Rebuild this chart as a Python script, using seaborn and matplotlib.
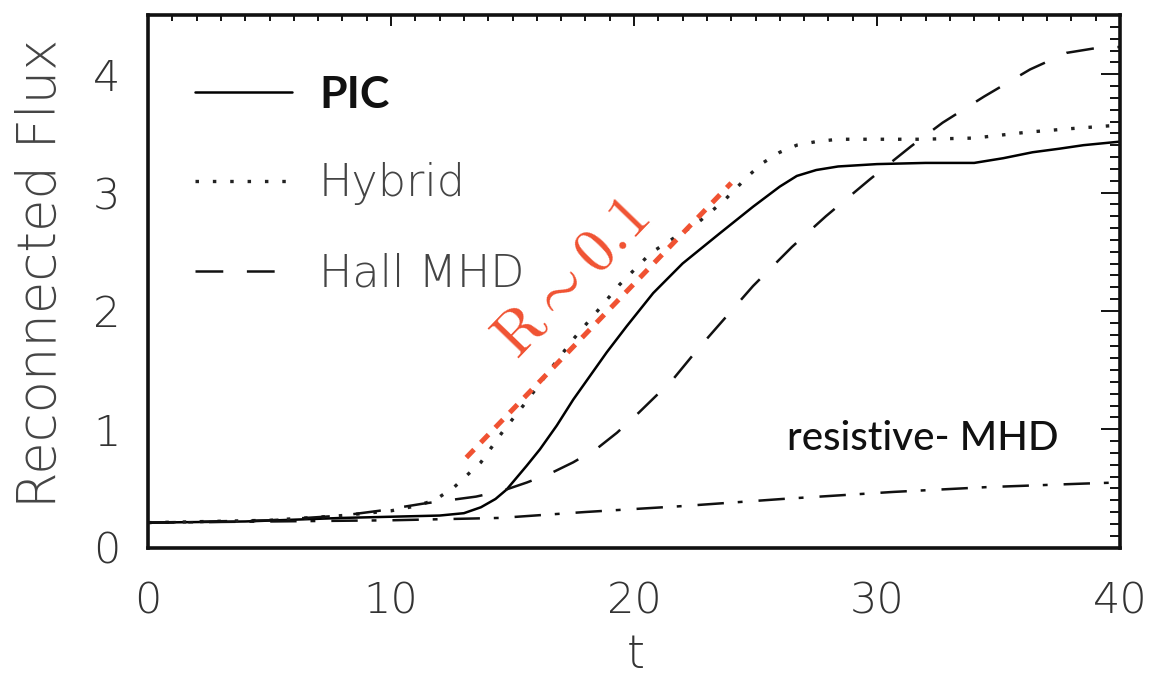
import matplotlib
matplotlib.use("Agg")
import matplotlib.pyplot as plt
import seaborn as sns
import numpy as np
from matplotlib.ticker import MultipleLocator

# ---- data ----
t_pic = [0, 4, 8, 12, 13, 13.7, 14.3, 14.76, 15.58, 16.13, 16.82, 17.5, 18.19, 18.88, 19.7, 20.79,
         22.0, 23.5, 24.9, 26.0, 26.7, 27.5, 28.4, 30, 32, 34, 35.2, 36.4, 37.5, 38.5, 40]
pic = [0.21, 0.22, 0.25, 0.27, 0.29, 0.34, 0.41, 0.49, 0.69, 0.83, 1.03, 1.25, 1.45, 1.65, 1.87, 2.15,
       2.40, 2.65, 2.88, 3.05, 3.14, 3.19, 3.22, 3.24, 3.25, 3.25, 3.29, 3.34, 3.37, 3.40, 3.43]

t_hyb = [0, 5, 8, 10, 11, 11.8, 12.6, 13.7, 14.6, 15.6, 16.5, 17.5, 18.5, 19.4, 20.7, 21.6, 22.6,
         23.7, 24.7, 25.3, 26.0, 26.7, 27.5, 28.4, 31.8, 34, 36.2, 38, 40]
hybrid = [0.21, 0.23, 0.27, 0.31, 0.35, 0.40, 0.51, 0.72, 0.98, 1.24, 1.49, 1.76, 2.00, 2.22, 2.49, 2.61, 2.74,
          2.93, 3.14, 3.25, 3.34, 3.40, 3.43, 3.45, 3.45, 3.46, 3.51, 3.54, 3.57]

t_hall = [0, 5, 8, 9.5, 11.3, 13.5, 14.6, 15.6, 16.6, 17.5, 18.5, 19.3, 20.2, 21.6, 22.6, 24.9, 26.5,
          27.9, 29.7, 31.4, 32.7, 34.4, 36.3, 37.8, 39, 40]
hall = [0.21, 0.23, 0.27, 0.31, 0.37, 0.43, 0.48, 0.55, 0.63, 0.72, 0.84, 0.97, 1.14, 1.42, 1.67, 2.21, 2.54,
        2.80, 3.11, 3.39, 3.59, 3.81, 4.04, 4.18, 4.22, 4.23]

t_res = [0, 5, 10, 14.5, 18, 22, 26.1, 30.7, 34.5, 38.5, 40]
resistive = [0.21, 0.22, 0.23, 0.25, 0.30, 0.35, 0.41, 0.47, 0.51, 0.54, 0.55]

t_rate = [13.1, 24.0]
rate = [0.76, 3.08]

series_labels = ["PIC", "Hybrid", "Hall MHD"]
x_ticks = [0, 10, 20, 30, 40]
y_ticks = [0, 1, 2, 3, 4]

# ---- style ----
sns.set_style("white")
plt.rcParams["font.family"] = ["DejaVu Sans"]
plt.rcParams["lines.scale_dashes"] = False
plt.rcParams["mathtext.fontset"] = "cm"

fig = plt.figure(figsize=(11.51, 6.80), dpi=100)
ax = fig.add_axes([148 / 1151, 1 - 547.5 / 680, (1120 - 148) / 1151, (547.5 - 15) / 680])

red = "#F05232"

sns.lineplot(x=t_pic, y=pic, ax=ax, color="black", linewidth=1.8, label=series_labels[0],
             estimator=None, sort=False)
sns.lineplot(x=t_hyb, y=hybrid, ax=ax, color="#222222", linewidth=2.4, label=series_labels[1],
             estimator=None, sort=False, linestyle=(0, (2.5, 10)))
sns.lineplot(x=t_hall, y=hall, ax=ax, color="#111111", linewidth=1.8, label=series_labels[2],
             estimator=None, sort=False, linestyle=(0, (20, 17)))
sns.lineplot(x=t_res, y=resistive, ax=ax, color="#111111", linewidth=1.8,
             estimator=None, sort=False, linestyle=(0, (19, 10, 3.5, 11.5)))
sns.lineplot(x=t_rate, y=rate, ax=ax, color=red, linewidth=3.6,
             estimator=None, sort=False, linestyle=(0, (8, 7)))

ax.set_xlim(0, 40)
ax.set_ylim(0, 4.5)
ax.set_xticks(x_ticks)
ax.set_yticks(y_ticks)
ax.xaxis.set_minor_locator(MultipleLocator(1))
ax.yaxis.set_minor_locator(MultipleLocator(0.1))

for s in ax.spines.values():
    s.set_visible(True)
    s.set_linewidth(2.6)
    s.set_color("#111111")

ax.tick_params(axis="both", which="both", direction="in", top=True, right=True,
               color="#111111", width=1.4)
ax.tick_params(axis="y", which="major", length=14, pad=20)
ax.tick_params(axis="y", which="minor", length=7)
ax.tick_params(axis="x", which="major", length=8, pad=24)
ax.tick_params(axis="x", which="minor", length=4.5)
for lab in ax.get_xticklabels() + ax.get_yticklabels():
    lab.set_fontsize(31)
    lab.set_color("#333333")
    lab.set_fontweight("light")

ax.set_xlabel("t", fontsize=33, color="#333333", fontweight="light")
ax.set_ylabel("Reconnected Flux", fontsize=38, color="#444444", fontweight="light")
ax.yaxis.set_label_coords(-0.083, 0.515)
ax.xaxis.set_label_coords(0.502, -0.16)

leg = ax.legend(loc="upper left", bbox_to_anchor=(0.048, 0.888), frameon=False,
                fontsize=32, handlelength=2.2, handletextpad=0.6, labelspacing=1.07,
                borderpad=0, borderaxespad=0)
texts = leg.get_texts()
texts[0].set_fontfamily("Lato")
texts[0].set_fontweight("bold")
texts[0].set_color("#111111")
for tx in texts[1:]:
    tx.set_color("#444444")
    tx.set_fontweight("light")

ax.text(31.9, 0.92, "resistive- MHD", fontsize=29, fontfamily="Lato", fontweight="medium",
        color="#111111", ha="center", va="center")
ax.text(17.45, 2.27, r"$\mathrm{R}\sim0.1$", fontsize=45, color=red, rotation=46,
        ha="center", va="center", rotation_mode="anchor")

fig.savefig("out.png", dpi=100)
